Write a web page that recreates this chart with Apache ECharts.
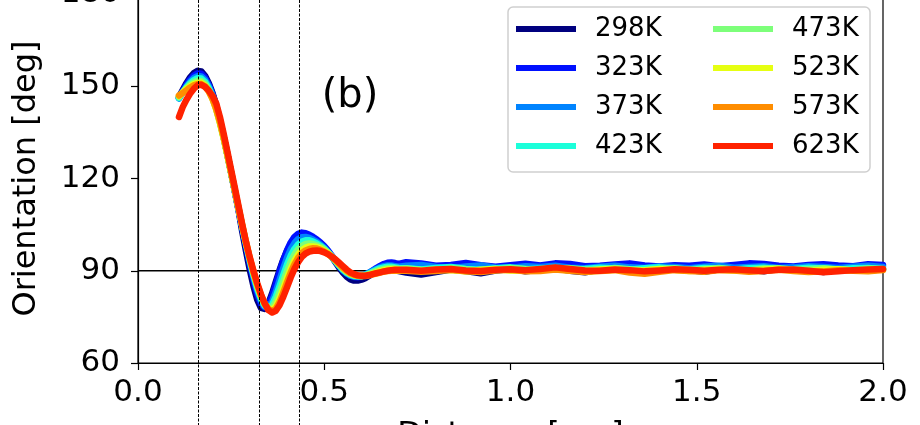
<!DOCTYPE html>
<html><head><meta charset="utf-8">
<script src="https://cdn.jsdelivr.net/npm/echarts@6/dist/echarts.min.js"></script>
<style>html,body{margin:0;padding:0;background:#fff}#c{width:920px;height:425px}</style>
</head><body><div id="c"></div>
<script>
// ---------- data ----------
const distance = [
  0.11,0.12,0.13,0.14,0.15,0.16,0.17,0.18,0.19,0.20,
  0.21,0.22,0.23,0.24,0.25,0.26,0.27,0.28,0.29,0.30,
  0.31,0.32,0.33,0.34,0.35,0.36,0.37,0.38,0.39,0.40,
  0.41,0.42,0.43,0.44,0.45,0.46,0.47,0.48,0.49,0.50,
  0.51,0.52,0.53,0.54,0.55,0.56,0.57,0.58,0.59,0.60,
  0.61,0.62,0.63,0.64,0.65,0.66,0.67,0.68,0.69,0.70,
  0.72,0.76,0.80,0.84,0.88,0.92,0.96,1.00,1.04,1.08,
  1.12,1.16,1.20,1.24,1.28,1.32,1.36,1.40,1.44,1.48,
  1.52,1.56,1.60,1.64,1.68,1.72,1.76,1.80,1.84,1.88,
  1.92,1.96,2.00
];
const temperatures = ['298K','323K','373K','423K','473K','523K','573K','623K'];
const lineColors = ['#00007f','#0010ff','#0084ff','#1cffda','#7dff7a','#e6ff12','#ff8d00','#ff2200'];

const t298 = [
  146.5,148.8,151.0,152.9,154.3,155.0,154.8,153.4,151.0,147.8,
  143.8,139.0,133.6,127.8,121.8,115.7,109.6,102.6,96.4,90.4,
  85.0,80.6,77.9,77.6,79.4,82.6,86.4,90.2,93.6,96.4,
  98.6,100.2,101.1,101.5,101.4,101.0,100.4,99.7,98.8,97.6,
  96.2,94.6,92.8,91.0,89.4,88.1,87.2,86.8,86.8,87.1,
  87.6,88.3,89.1,89.8,90.4,90.8,90.9,90.6,90.2,89.9,
  89.4,88.8,89.6,90.4,89.9,89.2,90.1,90.6,89.8,90.3,
  90.9,90.0,89.5,90.4,90.8,90.1,89.6,90.3,90.9,90.2,
  89.7,90.5,90.9,90.3,89.8,90.6,90.9,90.2,89.6,90.4,
  90.8,90.1,90.5
];
const t323 = [
  146.2,148.4,150.5,152.2,153.5,154.2,154.1,152.8,150.5,147.4,
  143.5,138.8,133.5,127.8,121.9,115.9,109.9,103.9,98.0,92.3,
  87.0,82.4,79.2,78.1,79.0,81.8,85.6,89.6,93.4,96.6,
  99.2,101.0,102.0,102.4,102.2,101.7,101.0,100.2,99.2,98.0,
  96.6,95.0,93.3,91.7,90.3,89.2,88.4,88.0,87.9,88.1,
  88.6,89.3,90.1,90.9,91.6,92.2,92.6,92.7,92.5,92.2,
  92.8,92.4,91.6,91.9,92.5,91.8,91.3,91.8,92.3,91.7,
  92.4,92.2,91.5,91.6,92.0,92.4,91.7,91.4,91.8,91.6,
  92.0,91.5,91.9,92.4,92.2,91.6,91.4,91.9,92.1,91.7,
  91.5,92.1,91.9
];
const t373 = [
  146.0,148.0,149.9,151.5,152.7,153.3,153.2,152.1,150.0,147.1,
  143.3,138.7,133.5,127.9,122.0,116.0,110.0,104.1,98.4,93.0,
  88.0,83.6,80.2,78.3,78.2,80.0,83.2,87.0,90.8,94.2,
  97.0,99.0,100.3,100.9,101.0,100.7,100.1,99.4,98.5,97.4,
  96.1,94.6,93.0,91.5,90.1,89.1,88.4,88.1,88.1,88.3,
  88.8,89.4,90.0,90.6,91.1,91.5,91.7,91.7,91.5,91.3,
  91.6,91.9,91.2,90.8,91.4,91.7,91.0,90.9,91.5,91.2,
  91.6,91.0,90.8,91.3,91.6,91.1,90.9,91.4,91.2,90.8,
  91.3,91.6,91.0,91.2,91.5,90.9,91.1,91.5,91.2,90.9,
  91.3,91.6,91.2
];
const t423 = [
  146.2,148.0,149.6,151.0,152.0,152.6,152.5,151.4,149.4,146.6,
  142.9,138.4,133.3,127.8,122.0,116.1,110.2,104.4,98.8,93.5,
  88.6,84.3,80.8,78.6,77.9,79.0,81.6,85.0,88.6,92.0,
  94.9,97.1,98.6,99.5,99.9,99.9,99.5,98.9,98.1,97.2,
  96.0,94.6,93.1,91.7,90.4,89.4,88.7,88.3,88.2,88.3,
  88.6,89.1,89.7,90.3,90.8,91.1,91.3,91.3,91.1,90.9,
  90.8,90.4,90.9,91.2,90.6,90.3,90.8,91.1,90.5,90.7,
  91.0,90.4,90.6,91.0,90.7,90.3,90.8,91.1,90.6,90.4,
  90.9,90.7,90.3,90.8,91.0,90.5,90.6,91.0,90.7,90.3,
  90.8,90.9,90.5
];
const t473 = [
  146.5,148.0,149.4,150.5,151.3,151.8,151.7,150.7,148.8,146.1,
  142.5,138.1,133.1,127.7,122.0,116.2,110.4,104.7,99.2,94.0,
  89.2,85.0,81.5,79.0,77.7,78.0,80.0,83.0,86.5,89.9,
  92.9,95.3,97.0,98.1,98.7,98.9,98.7,98.3,97.7,96.9,
  95.9,94.7,93.3,91.9,90.6,89.6,88.9,88.5,88.3,88.3,
  88.5,88.9,89.4,89.9,90.3,90.6,90.8,90.9,90.8,90.6,
  90.7,90.3,90.2,90.8,90.5,90.0,90.4,90.9,90.6,90.2,
  90.7,90.8,90.3,90.4,90.9,90.5,90.1,90.6,90.8,90.3,
  90.5,90.9,90.4,90.2,90.7,90.8,90.3,90.5,90.8,90.4,
  90.2,90.7,90.6
];
const t523 = [
  146.8,148.0,149.1,150.0,150.7,151.1,151.1,150.2,148.5,145.9,
  142.4,138.0,133.0,127.5,121.8,116.0,110.2,104.5,99.1,94.0,
  89.4,85.3,81.9,79.3,77.7,77.3,78.5,81.0,84.2,87.6,
  90.7,93.3,95.3,96.7,97.5,97.9,97.9,97.7,97.2,96.5,
  95.7,94.6,93.4,92.1,90.9,89.9,89.1,88.6,88.4,88.3,
  88.4,88.7,89.1,89.5,89.9,90.2,90.4,90.5,90.5,90.4,
  90.3,90.0,90.4,90.2,89.8,90.3,90.6,90.1,90.0,90.5,
  90.6,90.1,89.9,90.4,90.5,90.0,90.2,90.6,90.3,89.9,
  90.3,90.5,90.1,90.0,90.4,90.6,90.2,89.9,90.3,90.5,
  90.1,90.2,90.5
];
const t573 = [
  147.0,147.8,148.7,149.6,150.3,150.7,150.7,149.9,148.3,145.9,
  142.6,138.4,133.4,127.9,122.1,116.2,110.3,104.5,99.1,94.1,
  89.6,85.6,82.1,79.3,77.5,76.8,77.6,79.8,82.9,86.2,
  89.4,92.1,94.2,95.7,96.6,97.1,97.3,97.2,96.8,96.2,
  95.4,94.5,93.4,92.2,91.0,90.0,89.2,88.7,88.4,88.3,
  88.3,88.5,88.8,89.1,89.4,89.7,89.9,90.0,90.0,90.0,
  90.0,89.7,89.9,90.3,89.8,89.6,90.1,90.3,89.8,89.9,
  90.4,90.0,89.6,89.9,90.2,89.4,89.0,89.7,90.2,89.9,
  89.7,90.2,90.1,89.7,89.9,90.3,89.9,89.6,89.8,90.2,
  90.0,89.8,90.2
];
const t623 = [
  140.0,143.2,145.6,147.6,149.2,150.3,150.5,149.8,148.6,146.9,
  144.4,140.0,134.6,128.8,122.9,117.0,111.0,105.0,99.4,94.4,
  90.0,86.0,82.4,79.4,77.2,76.4,77.0,78.8,81.5,84.6,
  87.8,90.6,92.8,94.5,95.6,96.2,96.5,96.6,96.4,96.0,
  95.4,94.6,93.7,92.6,91.5,90.4,89.5,88.9,88.5,88.4,
  88.4,88.6,88.9,89.2,89.5,89.8,90.0,90.2,90.3,90.3,
  90.3,90.0,90.4,90.6,90.1,89.9,90.3,90.5,90.2,90.6,
  91.1,90.6,90.1,90.0,90.4,90.2,89.8,90.1,90.5,90.3,
  90.0,90.3,90.5,90.2,89.9,90.3,90.4,90.0,89.5,89.8,
  90.2,90.4,90.6
];
const seriesValues = [t298,t323,t373,t423,t473,t523,t573,t623];

const xTicks = [0.0, 0.5, 1.0, 1.5, 2.0];
const yTicks = [60, 90, 120, 150, 180];
const referenceLevel = 90;
const markerDistances = [0.162, 0.326, 0.431];
const panelLabel = '(b)';
const xTitle = 'Distance [nm]';
const yTitle = 'Orientation [deg]';

// ---------- chart ----------
const FONT = 'DejaVu Sans';
const chart = echarts.init(document.getElementById('c'), null, {renderer: 'canvas'});

const series = [{
  type: 'line',
  name: 'ref',
  data: [[xTicks[0], referenceLevel], [xTicks[xTicks.length-1], referenceLevel]],
  showSymbol: false,
  silent: true,
  lineStyle: {color: '#000', width: 1.3},
  z: 1
}];
temperatures.forEach((t, k) => {
  series.push({
    type: 'line',
    name: t,
    data: distance.map((d, i) => [d, seriesValues[k][i]]),
    showSymbol: false,
    symbol: 'none',
    clip: true,
    color: lineColors[k],
    lineStyle: {color: lineColors[k], width: 6.5, join: 'round', cap: 'round'},
    z: 2
  });
});

const legendCommon = {
  orient: 'vertical',
  top: 16,
  padding: 0,
  itemWidth: 60,
  itemHeight: 6,
  itemGap: 13,
  icon: 'rect',
  selectedMode: false,
  z: 5,
  textStyle: {fontFamily: FONT, fontSize: 26, color: '#000', padding: [0, 0, 0, 14]}
};

chart.setOption({
  animation: false,
  backgroundColor: '#fff',
  textStyle: {fontFamily: FONT},
  grid: {left: 138, right: 37, top: -6, bottom: 62, containLabel: false, outerBoundsMode: 'none',
         show: true, borderColor: '#000', borderWidth: 1.2, backgroundColor: 'transparent'},
  legend: [
    Object.assign({left: 516, data: temperatures.slice(0, 4)}, legendCommon),
    Object.assign({left: 713, data: temperatures.slice(4)}, legendCommon)
  ],
  xAxis: {
    type: 'value', min: xTicks[0], max: xTicks[xTicks.length-1], interval: 0.5,
    name: xTitle, nameLocation: 'middle', nameGap: 57,
    nameTextStyle: {fontFamily: FONT, fontSize: 32, color: '#000'},
    axisLine: {onZero: false, lineStyle: {color: '#000', width: 1.2}},
    axisTick: {show: true, inside: false, length: 7, lineStyle: {color: '#000', width: 1.2}},
    axisLabel: {fontFamily: FONT, fontSize: 31, color: '#000', margin: 14, formatter: v => v.toFixed(1)},
    splitLine: {show: false}
  },
  yAxis: {
    type: 'value', min: yTicks[0], max: yTicks[yTicks.length-1], interval: 30,
    name: yTitle, nameLocation: 'middle', nameGap: 95, nameRotate: 90,
    nameTextStyle: {fontFamily: FONT, fontSize: 32, color: '#000'},
    axisLine: {onZero: false, lineStyle: {color: '#000', width: 1.2}},
    axisTick: {show: true, inside: false, length: 7, lineStyle: {color: '#000', width: 1.2}},
    axisLabel: {fontFamily: FONT, fontSize: 31, color: '#000', margin: 18},
    splitLine: {show: false}
  },
  series: series
});

// vertical dashed marker lines (span the whole figure height), legend frame, panel label
const H = 425;
const graphics = markerDistances.map(d => {
  const px = Math.round(chart.convertToPixel({gridIndex: 0}, [d, referenceLevel])[0]) + 0.5;
  return {type: 'line', z: 10, silent: true,
    shape: {x1: px, y1: 0, x2: px, y2: H},
    style: {stroke: '#000', lineWidth: 1, lineDash: [3, 1.5]}};
});
graphics.push({type: 'rect', z: 3, silent: true,
  shape: {x: 508, y: 7, width: 362, height: 165, r: 5},
  style: {fill: 'rgba(255,255,255,0.8)', stroke: '#cfcfcf', lineWidth: 1.5}});
graphics.push({type: 'text', z: 10, silent: true, x: 350, y: 97,
  style: {text: panelLabel, font: '40px "DejaVu Sans"', fill: '#000', align: 'center', verticalAlign: 'middle'}});
chart.setOption({graphic: graphics});
</script>
</body></html>
